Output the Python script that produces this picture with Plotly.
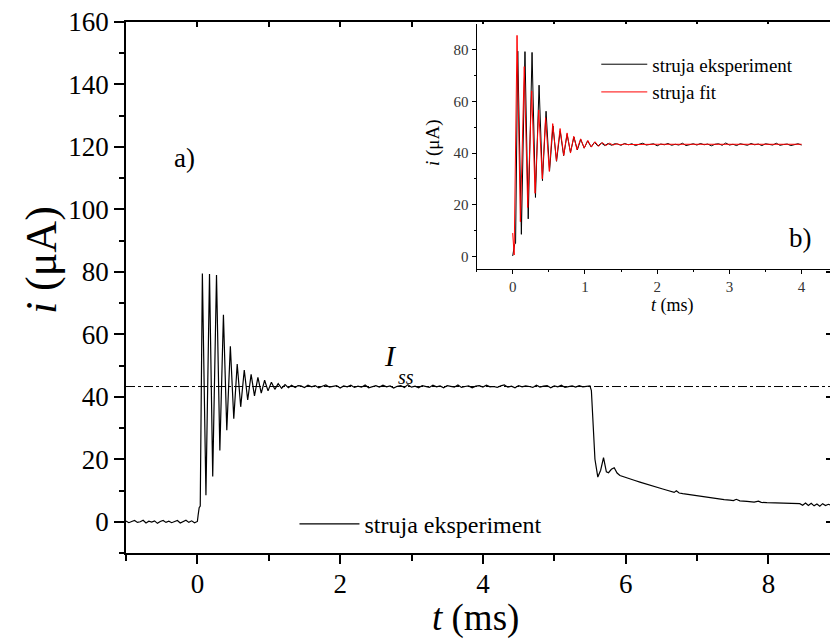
import plotly.graph_objects as go

# ---------------- data ----------------
# experiment: baseline before the pulse
t_base = [-1.00, -0.96, -0.92, -0.88, -0.84, -0.80, -0.76, -0.72, -0.68, -0.64,
          -0.60, -0.56, -0.52, -0.48, -0.44, -0.40, -0.36, -0.32, -0.28, -0.24,
          -0.20, -0.16, -0.12, -0.08, -0.04, 0.00]
i_base = [0.2, -0.3, 0.1, 0.4, -0.2, 0.0, 0.5, -0.4, 0.2, -0.1,
          0.3, -0.5, 0.1, 0.4, -0.2, 0.2, -0.3, 0.0, 0.4, -0.4,
          0.1, 0.5, -0.2, 0.3, -0.3, 0.1]

# experiment: damped oscillation after switch-on
t_osc = [0.01, 0.025, 0.04, 0.07, 0.12, 0.17, 0.215, 0.268, 0.315, 0.365, 0.412,
         0.462, 0.51, 0.558, 0.607, 0.657, 0.705, 0.753, 0.80, 0.848, 0.895,
         0.942, 0.99, 1.037, 1.085, 1.132, 1.18, 1.228, 1.275, 1.32, 1.37, 1.41]
i_osc = [2.0, 4.5, 5.0, 79.5, 8.5, 79.3, 14.5, 79.0, 22.8, 66.3, 29.3,
         56.2, 33.0, 50.5, 36.8, 48.6, 39.0, 47.2, 40.3, 46.2, 41.2,
         45.3, 41.9, 44.7, 42.4, 44.2, 42.7, 43.9, 42.9, 43.7, 43.0, 43.6]

# experiment: steady-state plateau
t_plat = [1.45, 1.50, 1.55, 1.60, 1.65, 1.70, 1.75, 1.80, 1.85, 1.90,
          1.95, 2.00, 2.05, 2.10, 2.15, 2.20, 2.25, 2.30, 2.35, 2.40,
          2.45, 2.50, 2.55, 2.60, 2.65, 2.70, 2.75, 2.80, 2.85, 2.90,
          2.95, 3.00, 3.05, 3.10, 3.15, 3.20, 3.25, 3.30, 3.35, 3.40,
          3.45, 3.50, 3.55, 3.60, 3.65, 3.70, 3.75, 3.80, 3.85, 3.90,
          3.95, 4.00, 4.05, 4.10, 4.15, 4.20, 4.25, 4.30, 4.35, 4.40,
          4.45, 4.50, 4.55, 4.60, 4.65, 4.70, 4.75, 4.80, 4.85, 4.90,
          4.95, 5.00, 5.05, 5.10, 5.15, 5.20, 5.25, 5.30, 5.35, 5.40, 5.45]
i_plat = [43.5, 43.0, 43.7, 43.2, 43.6, 42.9, 43.4, 43.8, 43.1, 43.3,
          43.6, 42.8, 43.5, 43.2, 43.7, 43.0, 43.4, 43.1, 43.8, 42.9,
          43.3, 43.6, 43.1, 43.7, 43.2, 43.5, 42.8, 43.4, 43.6, 43.0,
          43.9, 43.1, 43.4, 42.9, 43.6, 43.3, 43.0, 43.7, 43.2, 43.5,
          42.9, 43.6, 43.4, 43.1, 43.8, 43.0, 43.3, 43.5, 42.9, 43.4,
          43.6, 43.1, 43.7, 43.2, 43.3, 43.0, 43.5, 43.8, 43.1, 43.4,
          42.9, 43.6, 43.2, 43.5, 43.3, 43.0, 43.7, 43.1, 43.4, 43.6,
          42.9, 43.5, 43.2, 43.7, 43.0, 43.3, 43.5, 43.1, 43.6, 43.2, 43.4]

# experiment: switch-off and decay
t_off = [5.50, 5.52, 5.54, 5.57, 5.61, 5.65, 5.69, 5.73, 5.76, 5.80,
         5.84, 5.88, 5.92, 5.99, 6.06, 6.13, 6.20, 6.27, 6.33, 6.39,
         6.45, 6.52, 6.58, 6.64, 6.68, 6.71, 6.75, 6.80, 6.86, 6.93,
         7.00, 7.08, 7.18, 7.28, 7.38, 7.46, 7.51, 7.55, 7.60, 7.70,
         7.80, 7.86, 7.90, 7.98, 8.08, 8.18, 8.28, 8.38, 8.44, 8.48,
         8.52, 8.56, 8.60, 8.64, 8.68, 8.72, 8.76, 8.80, 8.84, 8.88]
i_off = [43.5, 42.0, 32.0, 20.0, 14.3, 16.5, 20.5, 16.0, 15.7, 16.8,
         17.3, 15.6, 14.8, 14.2, 13.8, 13.2, 12.7, 12.2, 11.8, 11.2,
         10.9, 10.5, 10.1, 9.7, 9.4, 9.9, 9.2, 9.0, 8.8, 8.5,
         8.2, 8.0, 7.7, 7.4, 7.1, 6.9, 6.8, 7.2, 6.7, 6.5,
         6.3, 6.6, 6.2, 6.1, 6.0, 5.9, 5.9, 5.8, 5.8, 5.3,
         6.0, 5.2, 5.9, 5.1, 5.7, 5.0, 5.8, 5.2, 5.6, 5.3]

# fit (inset)
t_fit = [0.0, 0.02, 0.06, 0.106, 0.16, 0.208, 0.263, 0.31, 0.36, 0.41,
         0.455, 0.507, 0.554, 0.605, 0.656, 0.707, 0.753, 0.80, 0.845, 0.89,
         0.94, 0.99, 1.04, 1.09, 1.14, 1.19, 1.24, 1.29, 1.34, 1.39,
         1.44, 1.49, 1.54, 1.60, 2.00, 3.00, 4.00]
i_fit = [9.0, 0.5, 85.6, 13.4, 73.5, 18.9, 64.1, 24.4, 56.7, 30.0,
         53.7, 32.9, 51.4, 37.0, 49.5, 39.1, 47.8, 40.0, 46.5, 41.3,
         45.5, 41.9, 44.9, 42.3, 44.4, 42.6, 44.1, 42.9, 43.8, 43.1,
         43.6, 43.2, 43.5, 43.3, 43.4, 43.4, 43.4]

I_SS = 43.3

main_xticks = [0, 2, 4, 6, 8]
main_yticks = [0, 20, 40, 60, 80, 100, 120, 140, 160]
inset_xticks = [0, 1, 2, 3, 4]
inset_yticks = [0, 20, 40, 60, 80]

assert len(t_base) == len(i_base)
assert len(t_osc) == len(i_osc)
assert len(t_plat) == len(i_plat)
assert len(t_off) == len(i_off)
assert len(t_fit) == len(i_fit)

t_exp = t_base + t_osc + t_plat + t_off
i_exp = i_base + i_osc + i_plat + i_off

inset_t = [t for t in t_exp if 0 <= t <= 4.0]
inset_i = [v for t, v in zip(t_exp, i_exp) if 0 <= t <= 4.0]

SERIF = "Liberation Serif"

fig = go.Figure()

fig.add_trace(go.Scatter(x=t_exp, y=i_exp, mode="lines", name="struja eksperiment",
                         line=dict(color="black", width=1.2), legend="legend"))

fig.add_trace(go.Scatter(x=inset_t, y=inset_i, mode="lines", name="struja eksperiment",
                         line=dict(color="black", width=1), xaxis="x2", yaxis="y2",
                         legend="legend2"))
fig.add_trace(go.Scatter(x=t_fit, y=i_fit, mode="lines", name="struja fit",
                         line=dict(color="red", width=1), xaxis="x2", yaxis="y2",
                         legend="legend2"))
# empty trace to host the mirrored (inward-tick) frame axes
fig.add_trace(go.Scatter(x=[], y=[], xaxis="x3", yaxis="y3", showlegend=False,
                         hoverinfo="skip"))

X0, X1 = -1, 8.863
Y0, Y1 = -10, 160

axis_common = dict(showgrid=False, zeroline=False, showline=True, linecolor="black",
                   tickcolor="black")

fig.update_layout(
    width=830, height=639,
    margin=dict(l=126, r=0, t=22, b=86),
    paper_bgcolor="white", plot_bgcolor="white",
    font=dict(family=SERIF, color="black"),
    xaxis=dict(**axis_common, range=[X0, X1], domain=[0, 1], linewidth=1.5,
               ticks="outside", tickvals=main_xticks, ticklen=9, tickwidth=1.5,
               ticklabelstandoff=-3,
               minor=dict(tickvals=[-1, 1, 3, 5, 7], ticks="outside", ticklen=6,
                          tickwidth=1.5, tickcolor="black"),
               tickfont=dict(size=27, family=SERIF), anchor="y"),
    yaxis=dict(**axis_common, range=[Y0, Y1], domain=[0, 1], linewidth=1.5,
               ticks="outside", tickvals=main_yticks, ticklen=10, tickwidth=1.5,
               minor=dict(tickvals=[-10, 10, 30, 50, 70, 90, 110, 130, 150],
                          ticks="outside", ticklen=5, tickwidth=1.5, tickcolor="black"),
               tickfont=dict(size=27, family=SERIF), anchor="x"),
    xaxis3=dict(**axis_common, range=[X0, X1], domain=[0, 1], overlaying="x",
                side="top", anchor="y3", linewidth=1.5, ticks="inside",
                tickvals=[0, 1, 2, 3, 4, 5, 6, 7, 8], ticklen=5, tickwidth=1.5,
                showticklabels=False),
    yaxis3=dict(**axis_common, range=[Y0, Y1], domain=[0, 1], overlaying="y",
                side="right", anchor="x3", linewidth=1.5, ticks="inside",
                tickvals=[0, 20, 40, 60, 80, 100, 120, 140, 160], ticklen=4,
                tickwidth=1.5, showticklabels=False),
    xaxis2=dict(**axis_common, range=[-0.5, 4.393], domain=[0.498, 1.0], anchor="y2",
                linewidth=1, ticks="outside", tickvals=inset_xticks, ticklen=4,
                minor=dict(tickvals=[-0.5, 0.5, 1.5, 2.5, 3.5], ticks="outside",
                           ticklen=2, tickcolor="black"),
                tickfont=dict(size=15, family=SERIF, color="#333")),
    yaxis2=dict(**axis_common, range=[-5, 90], domain=[0.5345, 0.9962], anchor="x2",
                linewidth=1, ticks="outside", tickvals=inset_yticks, ticklen=4,
                minor=dict(tickvals=[10, 30, 50, 70], ticks="outside", ticklen=2,
                           tickcolor="black"),
                tickfont=dict(size=15, family=SERIF, color="#333")),
    legend=dict(x=0.2393, y=0.054, xanchor="left", yanchor="middle",
                bgcolor="rgba(0,0,0,0)", font=dict(size=24, family=SERIF),
                itemwidth=60, tracegroupgap=0),
    legend2=dict(x=0.668, y=0.956, xanchor="left", yanchor="top",
                 bgcolor="rgba(0,0,0,0)", font=dict(size=19, family=SERIF),
                 itemwidth=46, tracegroupgap=0),
    showlegend=True,
    shapes=[dict(type="line", xref="x", yref="y", x0=X0, x1=X1, y0=I_SS, y1=I_SS,
                 line=dict(color="black", width=1, dash="dashdot"), layer="below")],
    annotations=[
        dict(text="<i>i</i> (μA)", xref="paper", yref="paper", x=-0.119, y=0.552,
             textangle=-90, showarrow=False, font=dict(size=44, family=SERIF),
             xanchor="center", yanchor="middle"),
        dict(text="<i>t</i> (ms)", xref="paper", yref="paper", x=0.497, y=-0.1215,
             showarrow=False, font=dict(size=37, family=SERIF),
             xanchor="center", yanchor="middle"),
        dict(text="a)", xref="paper", yref="paper", x=0.0838, y=0.744,
             showarrow=False, font=dict(size=27, family=SERIF),
             xanchor="center", yanchor="middle"),
        dict(text="<i>I</i>", xref="paper", yref="paper", x=0.3764, y=0.371,
             showarrow=False, font=dict(size=30, family=SERIF),
             xanchor="center", yanchor="middle"),
        dict(text="<i>ss</i>", xref="paper", yref="paper", x=0.3977, y=0.3315,
             showarrow=False, font=dict(size=20, family=SERIF),
             xanchor="center", yanchor="middle"),
        dict(text="b)", xref="paper", yref="paper", x=0.9588, y=0.593,
             showarrow=False, font=dict(size=27, family=SERIF),
             xanchor="center", yanchor="middle"),
        dict(text="<i>i</i> (μA)", xref="paper", yref="paper", x=(433 - 126) / 704,
             y=(553 - 143) / 531, textangle=-90, showarrow=False,
             font=dict(size=19, family=SERIF), xanchor="center", yanchor="middle"),
        dict(text="<i>t</i> (ms)", xref="paper", yref="paper", x=(672.7 - 126) / 704,
             y=(553 - 305) / 531, showarrow=False,
             font=dict(size=18, family=SERIF), xanchor="center", yanchor="middle"),
    ],
)

fig.write_html("out.html", config={"displayModeBar": False},
               post_script="document.body.style.margin='0';"
                           "document.body.style.overflow='hidden';")
